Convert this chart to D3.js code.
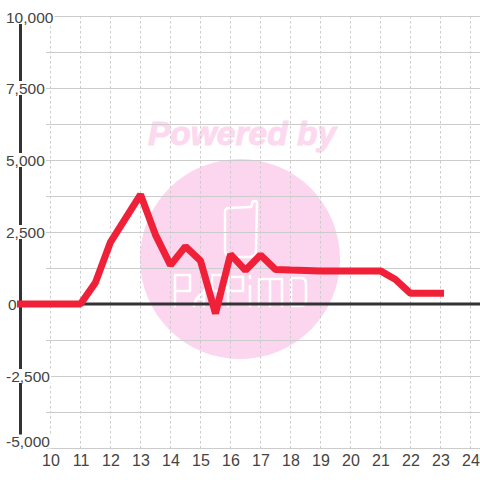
<!DOCTYPE html>
<html><head><meta charset="utf-8">
<script src="https://cdnjs.cloudflare.com/ajax/libs/d3/7.8.5/d3.min.js"></script>
<style>html,body{margin:0;padding:0;background:#fff}svg{display:block}text{font-family:"Liberation Sans",Arial,sans-serif}</style>
</head><body><svg id="c" width="480" height="480"></svg>
<script>
const xTicks = [10,11,12,13,14,15,16,17,18,19,20,21,22,23,24];
const yLabelled = [10000,7500,5000,2500,0,-2500,-5000];
const yGrid = [10000,8750,7500,6250,5000,3750,2500,1250,-1250,-2500,-3750,-5000];
const hours = [9,10,11,11.5,12,13,13.5,14,14.5,15,15.5,16,16.5,17,17.5,18,19,20,21,21.5,22,23];
const values = [0,0,0,750,2150,3800,2400,1350,2000,1500,-330,1720,1170,1700,1200,1180,1150,1150,1150,850,370,370];

const svg = d3.select('#c');
const x = d3.scaleLinear().domain([9,25]).range([20.5,500.5]);
const y = d3.scaleLinear().domain([-5000,10000]).range([448,16]);

// watermark
const wm = svg.append('g');
wm.append('circle').attr('cx',240).attr('cy',259).attr('r',100).attr('fill','#fcd5ee');
wm.append('text').attr('x',242).attr('y',145).attr('text-anchor','middle')
  .attr('font-size',33.5).attr('font-weight','bold').attr('font-style','italic')
  .attr('fill','#fcd9ef').attr('stroke','#fcd9ef').attr('stroke-width',1).text('Powered by');
wm.append('path').attr('fill','none').attr('stroke','#fff').attr('stroke-width',2.5).attr('stroke-linejoin','round')
  .attr('d','M225 212 Q225 208 229 208 L250 207 Q252 207 252 204 Q252 201 255 201 Q257 201 257 204 L256 250 Q256 256 250 257 L230 257 Q225 256 225 250 Z');
wm.append('path').attr('fill','none').attr('stroke','#fff').attr('stroke-width',2.6).attr('stroke-linecap','round').attr('stroke-linejoin','round')
  .attr('d',[
    'M175 306 V275 H190 V291 H176',
    'M194 306 Q196 296 204 292 M196 299 H204 M204 290 V306',
    'M212 306 V275 H226 V291 H213',
    'M228 306 V277 H243 V291 H229',
    'M250 286 V306 M250 276 V278',
    'M259 306 V279 H270 V306 M270 279 H282 V306',
    'M291 278 V306 H301 Q306 306 306 300 V284 Q306 278 301 278 H291'
  ].join(' '));

// grid
const grid = svg.append('g');
grid.selectAll('line.h').data(yGrid).join('line').attr('class','h')
  .attr('x1',46).attr('x2',480).attr('y1',d=>Math.round(y(d))+.5).attr('y2',d=>Math.round(y(d))+.5)
  .attr('stroke','#ccc').attr('stroke-width',1);
grid.selectAll('line.v').data(xTicks).join('line').attr('class','v')
  .attr('x1',d=>x(d)).attr('x2',d=>x(d)).attr('y1',16).attr('y2',448)
  .attr('stroke','#ccc').attr('stroke-width',1).attr('stroke-dasharray','2.5 2.5');

// axes
svg.append('line').attr('x1',20.5).attr('x2',20.5).attr('y1',24).attr('y2',436)
  .attr('stroke','#333').attr('stroke-width',3);
svg.append('line').attr('x1',20).attr('x2',480).attr('y1',y(0)).attr('y2',y(0))
  .attr('stroke','#333').attr('stroke-width',3);

// y labels with white backing (the zero label sits left of the axis with none)
const fmt = v => d3.format(',')(v).replace('\u2212','-');
const yl = svg.append('g');
yLabelled.forEach(v=>{
  const g = yl.append('g');
  const cy = Math.min(Math.max(y(v),17),441.5);
  const r = v===0 ? null : g.append('rect').attr('fill','#fff');
  const t = g.append('text').attr('font-size',15.5).attr('fill','#444')
    .attr('y',cy+5.5).attr('text-anchor','start').text(fmt(v));
  const w = t.node().getComputedTextLength();
  const left = v===0 ? 8 : Math.max(43.5-w, 6);
  t.attr('x',left);
  if(r) r.attr('x',left-1).attr('y',cy-7).attr('width',w+2).attr('height',14);
});

// x labels
const xAxis = d3.axisBottom(x).tickValues(xTicks).tickSize(0).tickPadding(0).tickFormat(d3.format('d'));
const xg = svg.append('g').attr('transform','translate(0,455)').call(xAxis);
xg.select('.domain').remove();
xg.selectAll('text').attr('font-size',16).attr('font-family','"Liberation Sans",Arial,sans-serif').attr('fill','#444');

// series
const line = d3.line().x((d,i)=>x(hours[i])).y(d=>y(d));
svg.append('path').datum(values).attr('d',line).attr('fill','none')
  .attr('stroke','#f02038').attr('stroke-width',7).attr('stroke-linejoin','bevel').attr('stroke-linecap','square');
</script></body></html>
